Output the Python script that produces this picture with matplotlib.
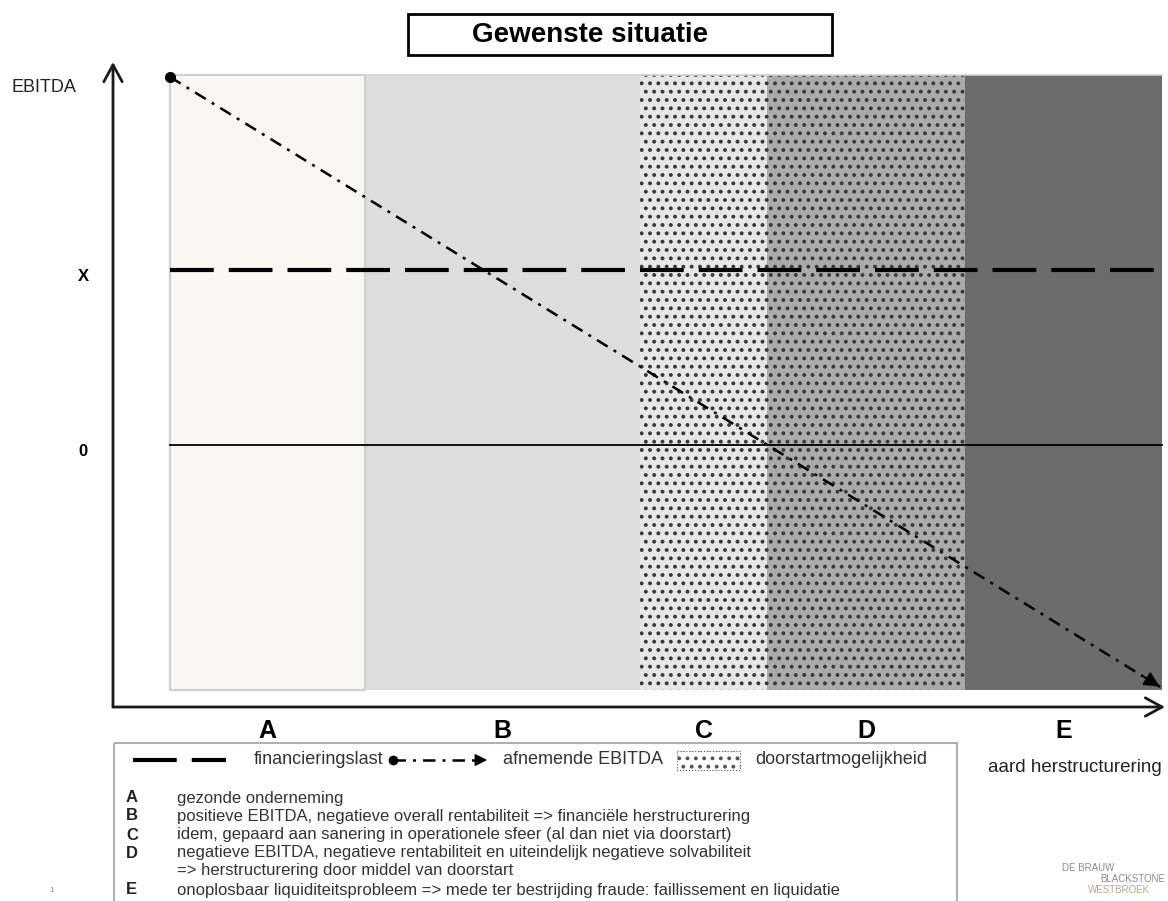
import matplotlib
matplotlib.use("Agg")
import matplotlib.pyplot as plt
from matplotlib.patches import Rectangle
import numpy as np

plt.rcParams['font.family'] = ['Liberation Sans', 'DejaVu Sans']
plt.rcParams['hatch.linewidth'] = 1.6

# data (x: zone axis, y: EBITDA with 0 = break-even)
zones = ['A', 'B', 'C', 'D', 'E']
zone_edges = [0.57, 2.52, 5.27, 6.54, 8.52, 10.49]
zone_hatched = [False, False, True, True, False]
zone_bottom, zone_top = -2.45, 3.70
financieringslast = 1.75
ebitda_x = [0.57, 10.49]
ebitda_y = [3.68, -2.43]
ytick_pos = [0, 1.75]
ytick_labels = ['0', 'X']

desc_letters = ['A', 'B', 'C', 'D', '', 'E']
desc_texts = [
    'gezonde onderneming',
    'positieve EBITDA, negatieve overall rentabiliteit => financiële herstructurering',
    'idem, gepaard aan sanering in operationele sfeer (al dan niet via doorstart)',
    'negatieve EBITDA, negatieve rentabiliteit en uiteindelijk negatieve solvabiliteit',
    '=> herstructurering door middel van doorstart',
    'onoplosbaar liquiditeitsprobleem => mede ter bestrijding fraude: faillissement en liquidatie',
]

zone_colors = ['#f8f7f4', '#dddddd', '#e6e6e6', '#ababab', '#6c6c6c']

W, H = 1168, 901
fig = plt.figure(figsize=(W / 100, H / 100), dpi=100)
ax = fig.add_axes([113 / W, 1 - 707 / H, (1165 - 113) / W, (707 - 62) / H])
ax.set_xlim(0, 10.52)
ax.set_ylim(-2.62, 3.83)
for s in ax.spines.values():
    s.set_visible(False)

# zones
lefts = np.array(zone_edges[:-1])
widths = np.diff(zone_edges)
ax.bar(lefts, zone_top - zone_bottom, width=widths, bottom=zone_bottom, align='edge',
       color=zone_colors, edgecolor='none', zorder=1)
hl = [l for l, h in zip(lefts, zone_hatched) if h]
hw = [w for w, h in zip(widths, zone_hatched) if h]
ax.bar(hl, zone_top - zone_bottom, width=hw, bottom=zone_bottom, align='edge',
       color='none', edgecolor='#3a3a3a', hatch='..', lw=0, zorder=2)
# light borders of zone A/B
ax.bar(lefts[0], zone_top - zone_bottom, width=widths[0], bottom=zone_bottom, align='edge',
       color='none', edgecolor='#d0d0d0', lw=1.6, zorder=2)
ax.plot([zone_edges[0], zone_edges[-1]], [zone_top, zone_top], color='#d2d2d2', lw=1.2, zorder=2)

# lines
ax.plot([zone_edges[0], zone_edges[-1]], [0, 0], color='black', lw=1.3, zorder=3)
ax.plot([zone_edges[0], zone_edges[-1]], [financieringslast] * 2, color='black', lw=3,
        dashes=(10.5, 3.6), zorder=4)
ax.plot(ebitda_x, ebitda_y, color='black', lw=1.8, dashes=(5, 2.8, 1.2, 2.8), zorder=4)
ax.plot(ebitda_x[0], ebitda_y[0], 'o', color='black', ms=7, zorder=5)
ex, ey = np.array(ebitda_x), np.array(ebitda_y)
ax.annotate('', xy=(ex[1], ey[1]), xytext=(ex[1] - 0.02 * (ex[1] - ex[0]), ey[1] - 0.02 * (ey[1] - ey[0])),
            arrowprops=dict(arrowstyle='-|>,head_length=0.6,head_width=0.3', color='black', lw=1.5,
                            mutation_scale=15), zorder=5)

# axes arrows
arr = dict(arrowstyle='->,head_length=0.55,head_width=0.3', color='#1a1a1a', lw=2, mutation_scale=22,
           shrinkA=0, shrinkB=0)
ax.annotate('', xy=(0, 1), xytext=(0, 0), xycoords='axes fraction', arrowprops=arr, annotation_clip=False)
ax.annotate('', xy=(1, 0), xytext=(0, 0), xycoords='axes fraction', arrowprops=arr, annotation_clip=False)

ax.set_yticks([])
centers = lefts + widths / 2
ax.set_xticks(centers, zones, fontsize=18, fontweight='bold')
ax.tick_params(axis='x', length=0, pad=9)
for p, lab in zip(ytick_pos, ytick_labels):
    ax.text(-0.30, p - 0.07, lab, ha='center', va='center', fontsize=12, fontweight='bold')
ax.text(-1.01, 3.57, 'EBITDA', ha='left', va='center', fontsize=13, color='#222222')

# overlay in pixel units for title and legend block
fa = fig.add_axes([0, 0, 1, 1])
fa.set_xlim(0, W)
fa.set_ylim(H, 0)
fa.axis('off')

fa.add_patch(Rectangle((408, 14), 424, 41, fc='white', ec='black', lw=2))
fa.text(590, 35, 'Gewenste situatie', ha='center', va='center', fontsize=20, fontweight='bold')

fa.add_patch(Rectangle((114, 743), 843, 200, fc='none', ec='#b0b0b0', lw=1.5))
ly = 760
fa.plot([133, 226], [ly, ly], color='black', lw=3, dashes=(10.5, 3.6))
fa.text(254, ly, 'financieringslast', ha='left', va='center', fontsize=13, color='#333333')
fa.plot([393, 478], [ly, ly], color='black', lw=1.8, dashes=(5, 2.8, 1.2, 2.8))
fa.plot(393, ly, 'o', color='black', ms=6)
fa.annotate('', xy=(490, ly), xytext=(476, ly),
            arrowprops=dict(arrowstyle='-|>,head_length=0.6,head_width=0.3', color='black', lw=1.2,
                            mutation_scale=12))
fa.text(503, ly, 'afnemende EBITDA', ha='left', va='center', fontsize=13, color='#333333')
fa.add_patch(Rectangle((677, 751), 63, 19, fc='white', ec='#555555', hatch='..', lw=0.8, ls=':'))
fa.text(755, ly, 'doorstartmogelijkheid', ha='left', va='center', fontsize=13, color='#333333')

row_y = [798, 816, 835, 853, 871, 890]
for yy, letter, txt in zip(row_y, desc_letters, desc_texts):
    fa.text(126, yy, letter, ha='left', va='center', fontsize=12, fontweight='bold', color='#222222')
    fa.text(177, yy, txt, ha='left', va='center', fontsize=12, color='#333333')

fa.text(988, 767, 'aard herstructurering', ha='left', va='center', fontsize=13.5, color='#222222')
fa.text(52, 890, '1', ha='center', va='center', fontsize=6, color='#888888')
fa.text(1062, 868, 'DE BRAUW', ha='left', va='center', fontsize=7, color='#8a8a8a')
fa.text(1165, 879, 'BLACKSTONE', ha='right', va='center', fontsize=7, color='#8a8a8a')
fa.text(1150, 890, 'WESTBROEK', ha='right', va='center', fontsize=7, color='#b8a48c')

fig.savefig('out.png', dpi=100)
